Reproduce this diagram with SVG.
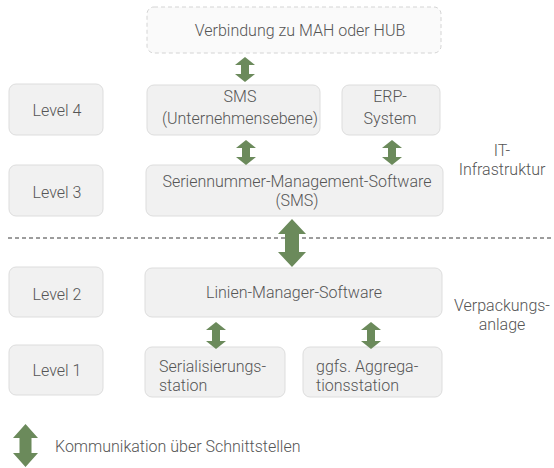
<svg xmlns="http://www.w3.org/2000/svg" width="554" height="468" viewBox="0 0 554 468">
  <style>
    .box { fill: #f1f1f1; stroke: #dddddd; stroke-width: 1; }
    .dash { fill: #fafafa; stroke: #d4d4d4; stroke-width: 1; stroke-dasharray: 4 3; }
    .t { font-family: Roboto, "Liberation Sans", sans-serif; font-weight: 300; font-size: 16px; fill: #555555; }
    .m { text-anchor: middle; }
    .arr { fill: #6b8a5b; }
  </style>
  <rect width="554" height="468" fill="#ffffff"/>

  <!-- level labels -->
  <g id="level4"><rect class="box" x="9" y="84" width="94" height="51" rx="7"/><text class="t m" x="57" y="116">Level 4</text></g>
  <g id="level3"><rect class="box" x="9" y="165" width="94" height="51" rx="7"/><text class="t m" x="57" y="198">Level 3</text></g>
  <g id="level2"><rect class="box" x="9" y="267" width="94" height="50" rx="7"/><text class="t m" x="57" y="300">Level 2</text></g>
  <g id="level1"><rect class="box" x="9" y="345" width="94" height="50" rx="7"/><text class="t m" x="57" y="376">Level 1</text></g>

  <!-- nodes -->
  <g id="hub"><rect class="dash" x="147" y="7" width="294" height="46" rx="7"/><text class="t m" x="300" y="36">Verbindung zu MAH oder HUB</text></g>
  <g id="sms-unternehmen"><rect class="box" x="147" y="85" width="173" height="50" rx="7"/><text class="t m" x="240" y="102">SMS</text><text class="t m" x="240" y="124">(Unternehmensebene)</text></g>
  <g id="erp"><rect class="box" x="342" y="85" width="98" height="50" rx="7"/><text class="t m" x="390" y="102">ERP-</text><text class="t m" x="390" y="124">System</text></g>
  <g id="sms"><rect class="box" x="146" y="165" width="297" height="51" rx="7"/><text class="t m" x="297" y="187">Seriennummer-Management-Software</text><text class="t m" x="297" y="206">(SMS)</text></g>
  <g id="linien"><rect class="box" x="145" y="268" width="297" height="49" rx="7"/><text class="t m" x="294" y="298">Linien-Manager-Software</text></g>
  <g id="serialisierung"><rect class="box" x="145" y="347" width="140" height="50" rx="7"/><text class="t" x="159" y="372">Serialisierungs-</text><text class="t" x="159" y="391">station</text></g>
  <g id="aggregation"><rect class="box" x="303" y="347" width="139" height="50" rx="7"/><text class="t" x="316" y="372">ggfs. Aggrega-</text><text class="t" x="316" y="391">tionsstation</text></g>

  <!-- side labels -->
  <g id="it-label"><text class="t m" x="502" y="156">IT-</text><text class="t m" x="502" y="175">Infrastruktur</text></g>
  <g id="verpackung-label"><text class="t m" x="502" y="311">Verpackungs-</text><text class="t m" x="502" y="330">anlage</text></g>

  <!-- divider -->
  <line x1="8" y1="238" x2="554" y2="238" stroke="#3a3a3a" stroke-width="1" stroke-dasharray="4 3"/>

  <!-- connectors -->
  <g id="connectors" class="arr">
    <path d="M245 57 L255 65 L249 65 L249 74 L255 74 L245 82 L235 74 L241 74 L241 65 L235 65 Z"/>
    <path d="M246 140 L256 148 L250 148 L250 157 L256 157 L246 165 L236 157 L242 157 L242 148 L236 148 Z"/>
    <path d="M392 140 L402 148 L396 148 L396 157 L402 157 L392 165 L382 157 L388 157 L388 148 L382 148 Z"/>
    <path d="M292 219 L306 234 L299 234 L299 252 L306 252 L292 267 L278 252 L285 252 L285 234 L278 234 Z"/>
    <path d="M216 322 L226 330 L220 330 L220 341 L226 341 L216 349 L206 341 L212 341 L212 330 L206 330 Z"/>
    <path d="M371 322 L381 330 L375 330 L375 341 L381 341 L371 349 L361 341 L367 341 L367 330 L361 330 Z"/>
  </g>

  <!-- legend -->
  <g id="legend">
    <path class="arr" d="M25.5 424 L38 438 L31.5 438 L31.5 453 L38 453 L25.5 467 L13 453 L19.5 453 L19.5 438 L13 438 Z"/>
    <text class="t" x="55" y="452">Kommunikation über Schnittstellen</text>
  </g>
</svg>
